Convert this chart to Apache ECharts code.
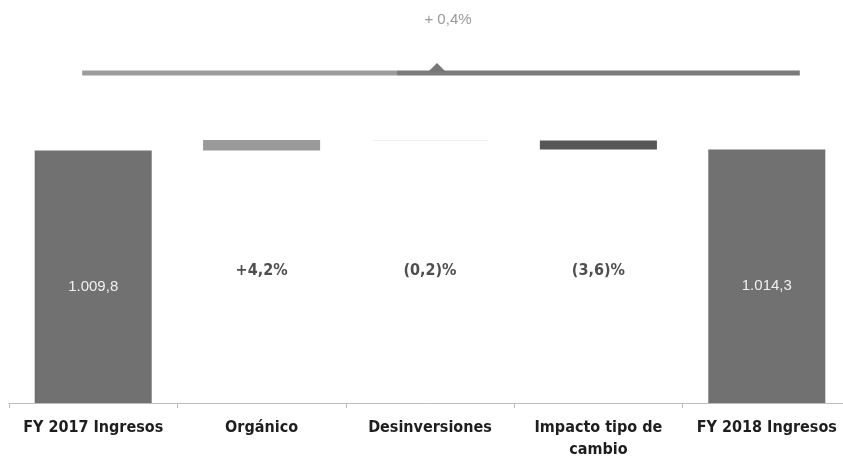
<!DOCTYPE html>
<html><head><meta charset="utf-8">
<script src="https://cdn.jsdelivr.net/npm/echarts@6/dist/echarts.min.js"></script>
<style>html,body{margin:0;padding:0;background:#fff}#c{width:843px;height:464px}</style>
</head><body><div id="c"></div>
<script>
const categories = ['FY 2017 Ingresos', 'Orgánico', 'Desinversiones', 'Impacto tipo de\ncambio', 'FY 2018 Ingresos'];
const startValue = 1009.8;
const deltas = [42.6, -2.1, -36.0];
const endValue = 1014.3;
const totalLabels = ['1.009,8', '1.014,3'];
const deltaLabels = ['+4,2%', '(0,2)%', '(3,6)%'];
const overallLabel = '+ 0,4%';

const barColors = ['#717171', '#9a9a9a', '#e6e6e6', '#575757', '#717171'];

// build waterfall
const base = [0];
const size = [startValue];
let run = startValue;
deltas.forEach(d => {
  const next = run + d;
  base.push(Math.min(run, next));
  size.push(Math.abs(d));
  run = next;
});
base.push(0); size.push(endValue);

const LABEL_LEVEL = 530;

const chart = echarts.init(document.getElementById('c'));
const font = '"Liberation Sans Narrow", "DejaVu Sans Condensed", sans-serif';
chart.setOption({
  animation: false,
  grid: {left: 9, right: -8, top: 3, bottom: 61, outerBoundsMode: 'none', containLabel: false},
  xAxis: {
    type: 'category', data: categories,
    axisLine: {lineStyle: {color: '#bdbdbd', width: 1}},
    axisTick: {show: true, length: 5, lineStyle: {color: '#bdbdbd'}},
    axisLabel: {margin: 14, fontFamily: font, fontWeight: 'bold', fontSize: 16, color: '#1e1e1e', lineHeight: 22, interval: 0}
  },
  yAxis: {type: 'value', min: 0, max: 1600, show: false, splitLine: {show: false}},
  series: [
    {type: 'bar', stack: 'w', data: base, itemStyle: {color: 'transparent'}, barWidth: '69.5%', silent: true},
    {type: 'bar', stack: 'w', barWidth: '69.5%',
     data: size.map((v, i) => ({value: v, itemStyle: {color: barColors[i]}})),
     label: {show: true, position: 'inside', offset: [0, 10], fontFamily: '"Liberation Sans Narrow", "Liberation Sans", sans-serif', fontSize: 15, color: '#f0f0f0',
       formatter: p => p.dataIndex === 0 ? totalLabels[0] : (p.dataIndex === 4 ? totalLabels[1] : '')}
    },
    {type: 'scatter', symbolSize: 0, silent: true,
     data: deltaLabels.map((t, i) => ({value: [categories[i + 1], LABEL_LEVEL], name: t})),
     label: {show: true, position: 'inside', formatter: p => p.name, fontFamily: font, fontWeight: 'bold', fontSize: 16, color: '#222'}
    }
  ]
});

// overall change bracket
const p0 = chart.convertToPixel({xAxisIndex: 0, yAxisIndex: 0}, [0, 0]);
const p2 = chart.convertToPixel({xAxisIndex: 0, yAxisIndex: 0}, [2, 0]);
const p4 = chart.convertToPixel({xAxisIndex: 0, yAxisIndex: 0}, [4, 0]);
const lineY = chart.convertToPixel({yAxisIndex: 0}, 1320);
const x0 = p0[0] - 11, x1 = p4[0] + 33, mid = p2[0] + 7;
chart.setOption({
  graphic: [
    {type: 'rect', shape: {x: x0, y: lineY - 2.5, width: mid - x0 - 40, height: 5}, style: {fill: '#9c9c9c'}},
    {type: 'rect', shape: {x: mid - 40, y: lineY - 2.5, width: x1 - mid + 40, height: 5}, style: {fill: '#7b7b7b'}},
    {type: 'polygon', shape: {points: [[mid - 9, lineY - 1], [mid, lineY - 10], [mid + 9, lineY - 1]]}, style: {fill: '#777'}},
    {type: 'text', x: mid + 11, y: 20, style: {text: overallLabel, fill: '#999', font: '15px "Liberation Sans Narrow", sans-serif', textAlign: 'center', textVerticalAlign: 'middle'}}
  ]
});
</script></body></html>
